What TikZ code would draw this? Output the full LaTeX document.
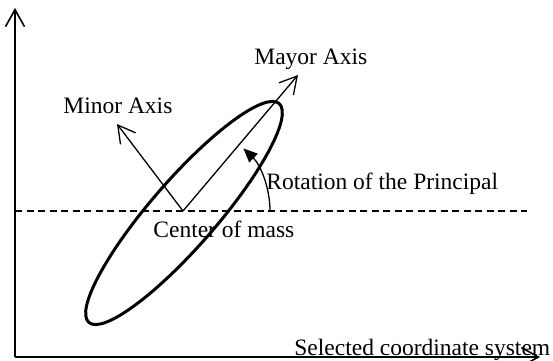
\documentclass[tikz,border=0pt]{standalone}
\usepackage{fontspec}
\setmainfont{Liberation Serif}
\usetikzlibrary{arrows.meta}

\begin{document}
\begin{tikzpicture}[x=0.5pt, y=0.5pt, >={Straight Barb[length=8.5pt,width=9.5pt]},
  lbl/.style={anchor=base west, inner sep=0pt, font=\fontsize{11.75pt}{14pt}\selectfont}]
  \useasboundingbox (0,0) rectangle (553,360);
  \coordinate (O) at (15,3);
  \coordinate (ytip) at (15,352);
  \coordinate (xtip) at (540,3);
  \coordinate (com) at (183,149);
  \coordinate (hstart) at (15,149);
  \coordinate (hend) at (527,149);
  \coordinate (majtip) at (298,285);
  \coordinate (mintip) at (117,236);
  \coordinate (ell) at (184,147);
  \coordinate (rot) at (270,149);
  \draw[->, line width=0.8pt] (O) -- (ytip);
  \draw[->, line width=0.8pt] (O) -- (xtip);
  \draw[line width=0.8pt, dash pattern=on 3.5pt off 2.25pt] (hstart) -- (hend);
  \draw[line width=1.5pt, rotate around={49:(ell)}] (ell) ellipse (145 and 33);
  \draw[->, line width=0.65pt] (com) -- (majtip);
  \draw[->, line width=0.65pt] (com) -- (mintip);
  \draw[-{Triangle[length=7pt,width=6pt]}, line width=0.65pt] (rot)
    arc[start angle=0, end angle=46, radius=87];
  \node[lbl] (major) at (254,296) {Mayor Axis};
  \node[lbl] (minor) at (63,247) {Minor Axis};
  \node[lbl] (rotation) at (266,171) {Rotation of the Principal};
  \node[lbl] (center) at (153,123) {Center of mass};
  \node[lbl] (system) at (294,5) {Selected coordinate system};
\end{tikzpicture}
\end{document}
